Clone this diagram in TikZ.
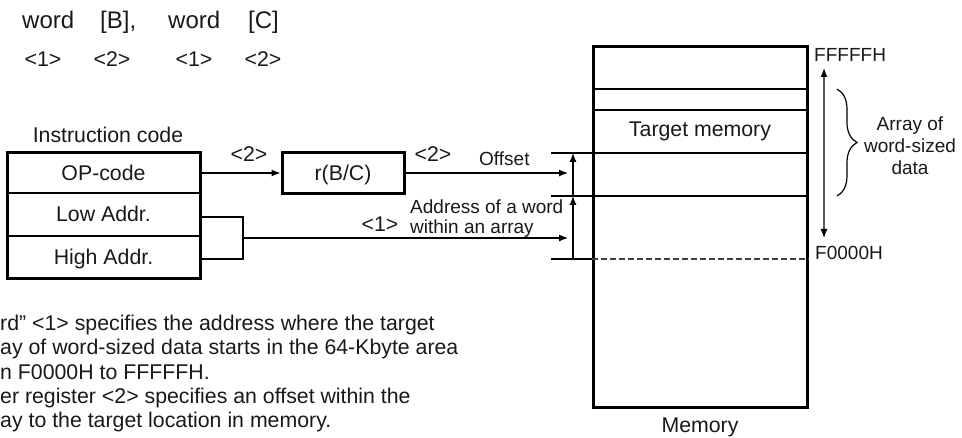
\documentclass[tikz,border=0pt]{standalone}
\usepackage{fontspec}
\setmainfont{Liberation Sans}
\usetikzlibrary{arrows.meta,decorations.pathreplacing}
\begin{document}
\begin{tikzpicture}[x=1pt,y=-1pt,
  body/.style={font=\fontsize{21.3}{24}\selectfont, inner sep=0pt, text=black!90},
  lbl/.style={font=\fontsize{19}{22}\selectfont, inner sep=0pt, text=black!90},
  topf/.style={font=\fontsize{24}{28}\selectfont, inner sep=0pt, text=black!90},
  row/.style={body, minimum width=193pt, outer sep=0pt, text height=15pt, text depth=0pt},
  thickbox/.style={line width=3pt},
  thinline/.style={line width=2pt},
  wire/.style={line width=1.2pt},
  conn/.style={line width=1.2pt, -{Latex[length=9pt,width=7pt]}},
]
\useasboundingbox (0,0) rectangle (962,438);

% top syntax
\node[topf, anchor=base west] (w1) at (22,29) {word};
\node[topf, anchor=base west] (b1) at (100,29) {[B],};
\node[topf, anchor=base west] (w2) at (168,29) {word};
\node[topf, anchor=base west] (c1) at (248,29) {[C]};
\node[body, anchor=base] (n1) at (43,67) {<1>};
\node[body, anchor=base] (n2) at (112,67) {<2>};
\node[body, anchor=base] (n3) at (194,67) {<1>};
\node[body, anchor=base] (n4) at (263,67) {<2>};

% instruction code
\node[body, anchor=base] (ic) at (108,143) {Instruction code};
\node[row, minimum height=40pt] (op) at (103.5,173) {OP-code};
\node[row, minimum height=43pt] (low) at (103.5,214.5) {Low Addr.};
\node[row, minimum height=43pt] (high) at (103.5,257.5) {High Addr.};
\draw[thinline] (op.south west) -- (op.south east);
\draw[thinline] (low.south west) -- (low.south east);
\draw[thickbox] (op.north west) rectangle (high.south east);

% register
\node[draw, thickbox, body, minimum width=122pt, minimum height=41pt,
      text height=15pt, text depth=0pt] (r) at (343,173) {r(B/C)};
\draw[conn] (op.east) -- (r.west);
\node[body, anchor=base] (l2a) at (249,162) {<2>};

% memory
\node[draw, thickbox, minimum width=214pt, minimum height=361pt, inner sep=0pt] (mem) at (700,227.5) {};
\coordinate (t1) at (551,153);
\coordinate (t2) at (551,196);
\coordinate (t3) at (551,259);
\coordinate (a1) at (573,153);
\coordinate (a2) at (573,196);
\coordinate (a3) at (573,259);
\draw[thinline] (mem.west |- 0,89) -- (mem.east |- 0,89);
\draw[thinline] (mem.west |- 0,110) -- (mem.east |- 0,110);
\draw[thinline] (t1) -- (mem.east |- t1);
\draw[thinline] (t2) -- (mem.east |- t2);
\draw[thinline] (t3) -- (mem.west |- t3);
\draw[line width=1.5pt, black!75, dash pattern=on 6pt off 3pt] (mem.west |- t3) -- (mem.east |- t3);
\draw[conn] (a3) -- (a2);
\draw[conn] (a2) -- (a1);
\node[body, anchor=base] (tm) at (700,137) {Target memory};
\node[body, anchor=base] (ml) at (700,433) {Memory};

% connectors to memory
\coordinate (offEnd) at (568,173);
\coordinate (addrEnd) at (568,238);
\coordinate (bk) at (243,238);
\draw[conn] (r.east) -- (offEnd);
\draw[wire] ([yshift=-2.5pt]low.east) -| (bk) |- ([yshift=-1.5pt]high.east);
\draw[conn] (bk) -- (addrEnd);
\node[body, anchor=base] (l2b) at (433,162) {<2>};
\node[lbl, anchor=base west] (offs) at (479,166) {Offset};
\node[lbl, anchor=base west] (adw) at (410,214) {Address of a word};
\node[lbl, anchor=base west] (wia) at (410,234) {within an array};
\node[body, anchor=base] (l1b) at (380,232) {<1>};

% address range
\node[lbl, anchor=base west] (ff) at (814,62) {FFFFFH};
\node[lbl, anchor=base west] (f0) at (815,260) {F0000H};
\coordinate (rt) at (824,68);
\coordinate (rb) at (824,238);
\draw[line width=1.2pt, black!65, {Latex[length=9pt,width=7pt,color=black]}-{Latex[length=9pt,width=7pt,color=black]}] (rt) -- (rb);
\coordinate (bt) at (837,89);
\coordinate (bb) at (837,196);
\draw[line width=1.2pt, decorate, decoration={brace, amplitude=20pt}] (bt) -- (bb);
\node[lbl, align=center] (arr) at (910,146) {Array of\\word-sized\\data};

% explanation
\node[body, anchor=base west] (e1) at (0,331) {rd” <1> specifies the address where the target};
\node[body, anchor=base west] (e2) at (0,355) {ay of word-sized data starts in the 64-Kbyte area};
\node[body, anchor=base west] (e3) at (0,380) {n F0000H to FFFFFH.};
\node[body, anchor=base west] (e4) at (0,404) {er register <2> specifies an offset within the};
\node[body, anchor=base west] (e5) at (0,428) {ay to the target location in memory.};
\end{tikzpicture}
\end{document}
